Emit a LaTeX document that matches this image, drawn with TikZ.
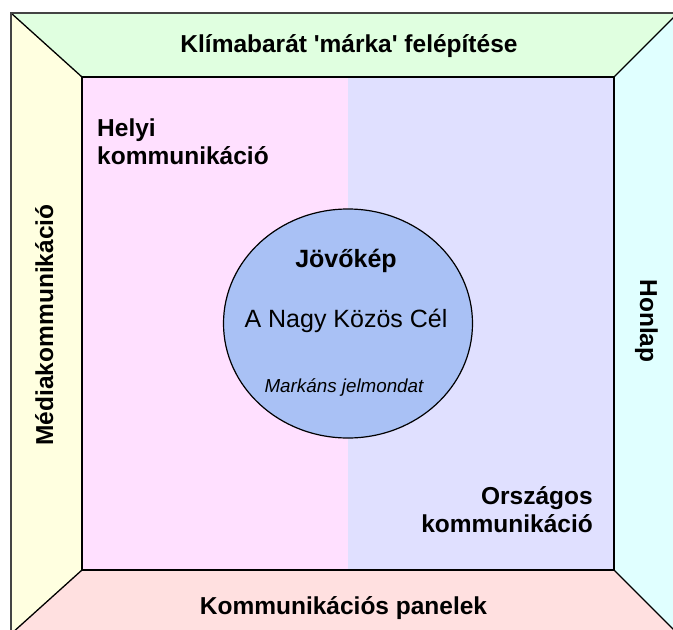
\documentclass[tikz,border=0pt]{standalone}
\usepackage{fontspec}
\setmainfont{Liberation Sans}
\usetikzlibrary{shapes.geometric}
\definecolor{topc}{HTML}{E0FFE0}
\definecolor{leftc}{HTML}{FFFFE0}
\definecolor{rightc}{HTML}{E0FFFF}
\definecolor{botc}{HTML}{FFE0E0}
\definecolor{pinkc}{HTML}{FFE0FF}
\definecolor{lavc}{HTML}{E0E0FF}
\definecolor{circc}{HTML}{A9C1F5}
\definecolor{framec}{HTML}{444444}
\begin{document}
\begin{tikzpicture}[x=1pt,y=-1pt,
  lbl/.style={font=\bfseries\fontsize{24.5}{28}\selectfont, inner sep=0pt, anchor=base},
  diag/.style={draw=black, line width=1.3pt}]
\useasboundingbox (0,0) rectangle (673,630);
\clip (0,0) rectangle (673,630);
% corner coordinates
\coordinate (OTL) at (11,13);
\coordinate (OTR) at (678,13);
\coordinate (OBL) at (11,634);
\coordinate (OBR) at (678,634);
\coordinate (ITL) at (82,77);
\coordinate (ITR) at (614,77);
\coordinate (IBL) at (82,570);
\coordinate (IBR) at (614,570);
\coordinate (ITM) at (348,77);
\coordinate (IBM) at (348,570);
% trapezoids
\fill[topc] (OTL) -- (OTR) -- (ITR) -- (ITL) -- cycle;
\fill[leftc] (OTL) -- (ITL) -- (IBL) -- (OBL) -- cycle;
\fill[rightc] (OTR) -- (OBR) -- (IBR) -- (ITR) -- cycle;
\fill[botc] (OBL) -- (IBL) -- (IBR) -- (OBR) -- cycle;
\draw[diag] (OTL) -- (ITL);
\draw[diag] (OTR) -- (ITR);
\draw[diag] (OBL) -- (IBL);
\draw[diag] (OBR) -- (IBR);
\draw[framec, line width=1.5pt] (OTL) rectangle (OBR);
% inner square
\fill[pinkc] (ITL) rectangle (IBM);
\fill[lavc] (ITM) rectangle (IBR);
\draw[black, line width=2.4pt] (ITL) rectangle (IBR);
% circle
\node[ellipse, draw=black, line width=1.2pt, fill=circc, minimum width=249pt, minimum height=229pt, inner sep=0pt] (goal) at (348,323.5) {};
\node[anchor=base, inner sep=0pt, font=\bfseries\fontsize{25}{30}\selectfont] (vision) at (346,267) {Jövőkép};
\node[anchor=base, inner sep=0pt, font=\fontsize{25}{30}\selectfont] (main) at (346,327) {A Nagy Közös Cél};
\node[anchor=base, inner sep=0pt, font=\itshape\fontsize{18.8}{22}\selectfont] (motto) at (344,392) {Markáns jelmondat};
% labels
\node[lbl] (title) at (349,52) {Klímabarát \textquotesingle márka\textquotesingle{} felépítése};
\node[lbl] (bottom) at (343.5,614) {Kommunikációs panelek};
\node[lbl, rotate=90] (media) at (53,325) {Médiakommunikáció};
\node[lbl, rotate=-90] (web) at (640,321) {Honlap};
\node[lbl, align=left, anchor=north west] (local) at (97,119) {Helyi\\kommunikáció};
\node[lbl, align=right, anchor=south east] (national) at (593,533) {Országos\\kommunikáció};
\end{tikzpicture}
\end{document}
